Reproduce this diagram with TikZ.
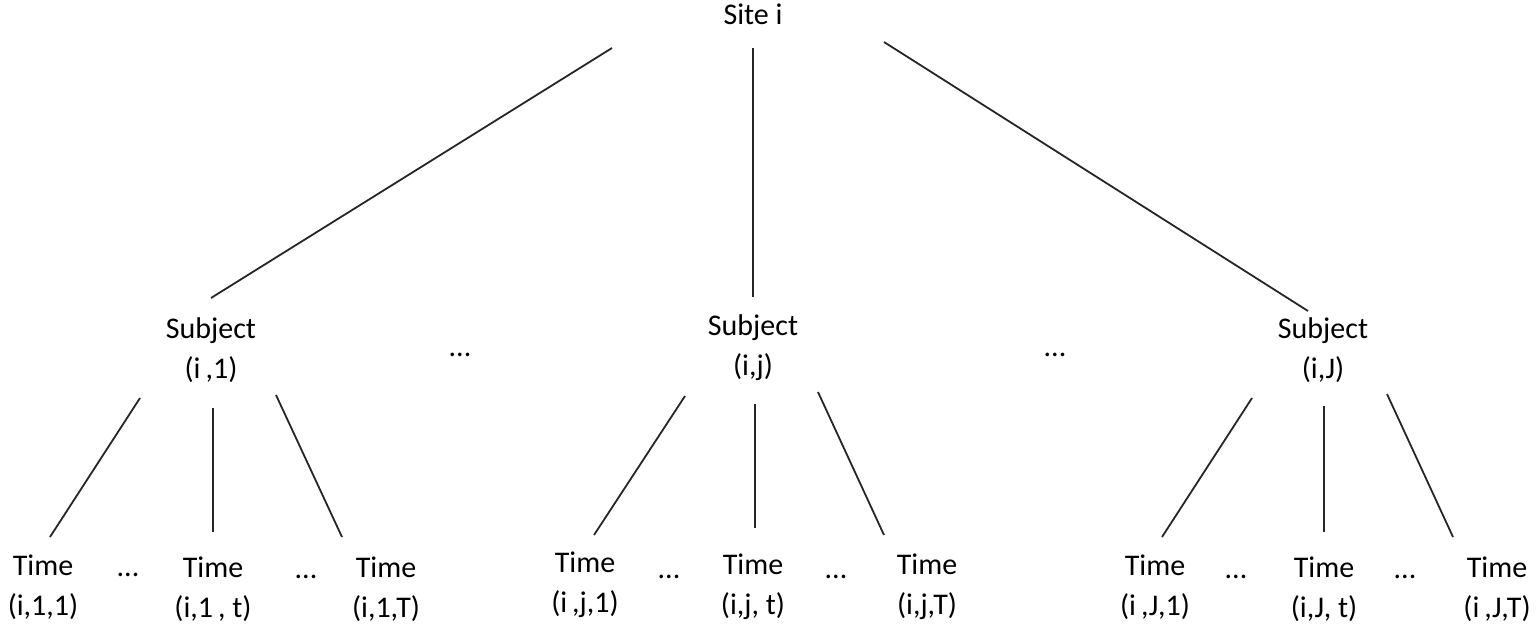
\documentclass[tikz,border=0pt]{standalone}
\usepackage{fontspec}
\setmainfont{Carlito}
\usetikzlibrary{calc}
\begin{document}
\begin{tikzpicture}[x=0.5pt,y=-0.5pt,
    every node/.style={inner sep=0pt,align=center,font=\fontsize{15}{20}\selectfont},
    link/.style={line width=0.9pt,black!85}]
      \useasboundingbox (0,0) rectangle (1536,628);
      % top level
      \node (site) at (753,14) {Site i};
      % subjects
      \node (s1) at (211,350) {Subject\\(i\,,1)};
      \node (s2) at (753,348) {Subject\\(i,j)};
      \node (s3) at (1323,350) {Subject\\(i,J)};
      \node (d1) at (460,355) {...};
      \node (d2) at (1055,355) {...};
      % times
      \node (t11) at (43,587) {Time\\(i,1,1)};
      \node (t12) at (213,589) {Time\\(i,1\,, t)};
      \node (t13) at (386,589) {Time\\(i,1,T)};
      \node (t21) at (585,585) {Time\\(i\,,j,1)};
      \node (t22) at (753,587) {Time\\(i,j, t)};
      \node (t23) at (927,587) {Time\\(i,j,T)};
      \node (t31) at (1155,587) {Time\\(i\,,J,1)};
      \node (t32) at (1324,589) {Time\\(i,J, t)};
      \node (t33) at (1497,589) {Time\\(i\,,J,T)};
      \node (e11) at (128,575) {...};
      \node (e12) at (306,577) {...};
      \node (e21) at (669,577) {...};
      \node (e22) at (836,577) {...};
      \node (e31) at (1236,577) {...};
      \node (e32) at (1405,577) {...};
      % site to subjects
      \draw [link] ([shift={(-141,34)}]site.center) -- ([shift={(0,-52)}]s1.center);
      \draw [link] ([shift={(0,34)}]site.center) -- ([shift={(0,-51)}]s2.center);
      \draw [link] ([shift={(131,28)}]site.center) -- ([shift={(-15,-39)}]s3.center);
      % subjects to times
      \draw [link] ([shift={(-71,48)}]s1.center) -- ([shift={(7,-50)}]t11.center);
      \draw [link] ([shift={(2,58)}]s1.center) -- ([shift={(0,-57)}]t12.center);
      \draw [link] ([shift={(65,45)}]s1.center) -- ([shift={(-44,-52)}]t13.center);
      \draw [link] ([shift={(-68,48)}]s2.center) -- ([shift={(9,-50)}]t21.center);
      \draw [link] ([shift={(2,56)}]s2.center) -- ([shift={(2,-59)}]t22.center);
      \draw [link] ([shift={(65,44)}]s2.center) -- ([shift={(-43,-52)}]t23.center);
      \draw [link] ([shift={(-71,48)}]s3.center) -- ([shift={(7,-50)}]t31.center);
      \draw [link] ([shift={(1,56)}]s3.center) -- ([shift={(0,-57)}]t32.center);
      \draw [link] ([shift={(64,44)}]s3.center) -- ([shift={(-44,-52)}]t33.center);
    \end{tikzpicture}
\end{document}
